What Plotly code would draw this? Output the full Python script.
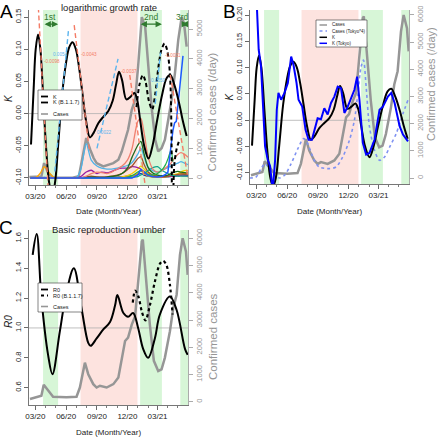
import plotly.graph_objects as go

W, H = 440, 438
FONT = "Liberation Sans, Arial, sans-serif"
XR = ["2020-02-11", "2021-05-31"]

# ---------------- data ----------------
# logarithmic growth rate K (Japan)
k_dates = ["2020-02-17","2020-02-25","2020-03-02","2020-03-09","2020-03-16","2020-03-25","2020-04-03","2020-04-12",
           "2020-04-20","2020-04-28","2020-05-08","2020-05-20","2020-06-01","2020-06-10","2020-06-20","2020-06-30",
           "2020-07-10","2020-07-20","2020-07-30","2020-08-11","2020-08-22","2020-09-05","2020-09-20","2020-10-05",
           "2020-10-18","2020-10-28","2020-11-06","2020-11-15","2020-11-28","2020-12-10","2020-12-22","2020-12-30",
           "2021-01-08","2021-01-20","2021-02-02","2021-02-14","2021-02-28","2021-03-15","2021-03-28","2021-04-08",
           "2021-04-20","2021-05-05","2021-05-15","2021-05-27"]
k_vals = [-0.048,0.04,0.10,0.123,0.10,0.02,-0.06,-0.11,-0.125,-0.11,-0.05,0.03,0.08,0.103,0.111,0.10,0.07,0.03,
          -0.01,-0.037,-0.03,-0.015,-0.005,0.004,0.02,0.045,0.065,0.052,0.022,0.026,0.032,0.022,-0.01,-0.05,-0.07,
          -0.05,-0.01,0.03,0.055,0.060,0.045,0.015,-0.01,-0.035]

# K for B.1.1.7
kb_dates = ["2020-12-28","2021-01-06","2021-01-16","2021-01-24","2021-02-03","2021-02-13","2021-02-22","2021-03-03",
            "2021-03-12","2021-03-22","2021-03-30","2021-04-05","2021-04-09","2021-04-12","2021-04-14","2021-04-20",
            "2021-04-27","2021-05-06"]
kb_vals = [0.01,0.045,0.06,0.05,0.02,0.006,0.03,0.07,0.098,0.109,0.098,0.075,0.04,-0.05,-0.2,-0.08,-0.055,-0.04]

# confirmed cases, panel A
ca_dates = ["2020-02-12","2020-03-05","2020-03-19","2020-03-27","2020-04-08","2020-04-23","2020-05-20","2020-06-20",
            "2020-07-09","2020-07-19","2020-07-31","2020-08-12","2020-08-22","2020-08-31","2020-09-20","2020-10-20",
            "2020-11-04","2020-11-14","2020-11-24","2020-12-03","2020-12-14","2020-12-24","2021-01-02","2021-01-13",
            "2021-01-23","2021-02-02","2021-02-12","2021-02-22","2021-03-03","2021-03-13","2021-03-23","2021-04-02",
            "2021-04-12","2021-04-22","2021-05-02","2021-05-12","2021-05-19","2021-05-27"]
ca_vals = [30,40,50,500,170,20,10,10,60,615,1340,950,670,500,390,500,615,890,1285,1620,2290,2625,3740,5400,5080,
           3740,2290,1285,890,1000,1285,1955,2625,3520,4640,5400,5200,4410]

# confirmed cases, panels B and C
cb_dates = ["2020-02-14","2020-03-19","2020-03-26","2020-04-08","2020-04-23","2020-06-02","2020-07-02","2020-07-12",
            "2020-07-27","2020-08-06","2020-08-21","2020-08-31","2020-09-10","2020-09-30","2020-10-20","2020-11-04",
            "2020-11-14","2020-11-24","2020-12-03","2020-12-14","2020-12-24","2021-01-02","2021-01-13","2021-01-16",
            "2021-01-27","2021-02-06","2021-02-18","2021-03-03","2021-03-13","2021-03-23","2021-04-07","2021-04-17",
            "2021-04-27","2021-05-07","2021-05-15","2021-05-25","2021-05-30"]
cb_vals = [100,220,620,400,180,160,180,520,1435,1010,645,520,585,520,645,890,1500,2230,2350,2830,3140,4300,5880,
           5950,4420,2830,1500,1130,1190,1620,2590,3440,3930,5390,6000,5510,4660]

# Tokyo cases x4
t4_dates = ["2020-02-10","2020-02-29","2020-03-15","2020-03-27","2020-04-09","2020-04-24","2020-05-09","2020-05-24",
            "2020-06-13","2020-07-03","2020-07-20","2020-08-01","2020-08-21","2020-09-05","2020-10-05","2020-10-25",
            "2020-11-14","2020-12-04","2020-12-19","2020-12-29","2021-01-08","2021-01-15","2021-01-23","2021-02-02",
            "2021-02-17","2021-03-04","2021-03-19","2021-04-03","2021-04-23","2021-05-13","2021-05-28"]
t4_vals = [0,37,345,530,345,100,0,100,530,1080,1450,1270,650,405,345,405,775,1390,2130,3110,4100,4340,3360,1880,
           1020,650,775,1140,1640,2370,2870]

# K (Tokyo)
kt_dates = ["2020-02-26","2020-03-02","2020-03-08","2020-03-15","2020-03-20","2020-03-27","2020-04-04","2020-04-11",
            "2020-04-19","2020-04-26","2020-05-01","2020-05-06","2020-05-14","2020-05-24","2020-06-03","2020-06-13",
            "2020-06-20","2020-06-29","2020-07-05","2020-07-16","2020-07-26","2020-08-04","2020-08-14","2020-08-24",
            "2020-08-31","2020-09-10","2020-09-20","2020-09-30","2020-10-10","2020-10-20","2020-10-30","2020-11-09",
            "2020-11-19","2020-11-29","2020-12-09","2020-12-19","2020-12-27","2021-01-03","2021-01-13","2021-01-23",
            "2021-02-02","2021-02-17","2021-03-04","2021-03-14","2021-03-29","2021-04-08","2021-04-18","2021-05-03",
            "2021-05-13","2021-05-28"]
kt_vals = [0.30,0.206,0.134,0.102,0.039,-0.049,-0.075,-0.087,-0.135,-0.075,0.02,0.052,0.039,0.052,0.071,0.121,
           0.105,0.071,0.039,0.026,-0.018,-0.037,-0.037,-0.011,0.004,0.002,0.023,0.011,0.033,0.045,0.064,0.061,
           0.014,0.026,0.042,0.058,0.083,0.039,-0.043,-0.065,-0.062,-0.037,0.020,0.026,0.045,0.052,0.033,-0.011,
           -0.027,-0.040]

# basic reproduction number R0
r0_dates = ["2020-02-22","2020-03-05","2020-03-19","2020-04-08","2020-04-21","2020-05-13","2020-06-02","2020-06-24",
            "2020-07-17","2020-08-06","2020-08-13","2020-08-31","2020-09-20","2020-10-10","2020-10-25","2020-11-01",
            "2020-11-19","2020-12-03","2020-12-18","2021-01-02","2021-01-17","2021-02-01","2021-02-21","2021-03-08",
            "2021-04-07","2021-04-27","2021-05-22","2021-05-30"]
r0_vals = [1.49,1.63,1.20,0.82,0.69,0.975,1.24,1.40,1.13,0.90,0.88,0.93,0.99,1.04,1.15,1.22,1.10,1.075,1.10,1.0,
           0.86,0.80,0.93,1.09,1.21,1.12,0.86,0.82]
r0b_dates = ["2020-12-17","2020-12-24","2021-01-03","2021-01-13","2021-01-24","2021-02-06","2021-02-21","2021-03-08",
             "2021-03-18","2021-03-28","2021-04-07","2021-04-15"]
r0b_vals = [1.17,1.25,1.21,1.11,1.05,1.15,1.31,1.43,1.45,1.42,1.29,1.09]

# prefecture case curves in panel A (common date grid)
grid = ["2020-02-15","2020-03-01","2020-03-15","2020-03-28","2020-04-10","2020-04-25","2020-05-10","2020-06-01",
        "2020-07-01","2020-07-15","2020-07-31","2020-08-15","2020-09-01","2020-09-15","2020-10-01","2020-10-15",
        "2020-11-01","2020-11-15","2020-12-01","2020-12-15","2021-01-01","2021-01-10","2021-01-20","2021-02-01",
        "2021-02-15","2021-03-01","2021-03-15","2021-04-01","2021-04-10","2021-04-20","2021-05-01","2021-05-10",
        "2021-05-20","2021-05-31"]
pref_orange = [0,0,150,380,200,20,0,0,0,0,0,0,0,0,0,0,0,0,20,60,150,250,150,60,30,20,30,60,80,100,120,140,150,150]
pref_lightblue = [0,0,0,0,0,0,0,0,0,300,1150,600,400,330,300,300,330,370,420,520,800,1000,700,350,250,200,250,350,
                  400,450,500,550,500,450]
pref_purple = [0,0,0,0,0,0,0,0,0,50,200,260,150,200,170,220,300,330,330,380,350,300,200,100,60,40,40,60,60,70,80,
               80,70,60]
pref_brown = [0,0,0,0,0,0,0,0,0,0,40,60,40,30,40,60,100,150,280,400,650,720,450,200,100,60,50,60,80,100,120,140,
              130,120]
pref_darkgreen = [0,0,0,0,0,0,0,0,0,0,20,30,20,20,30,50,80,150,330,700,1100,1230,800,350,170,100,80,100,150,200,
                  220,200,180,160]
pref_salmon = [0,0,0,0,0,0,0,0,0,0,60,150,200,180,150,200,300,400,600,1000,1900,2000,1500,700,300,200,250,400,500,
               650,800,850,800,700]
pref_yellow = [0,0,0,0,0,0,0,0,0,0,0,0,0,0,0,0,20,40,80,150,300,400,300,150,60,30,30,50,80,120,150,200,250,250]
pref_teal = [0,0,0,0,0,0,0,0,0,0,0,0,0,0,0,0,0,0,0,20,50,100,150,250,350,380,250,150,100,80,60,60,60,60]
pref_navy = [0,0,10,20,10,0,0,0,0,10,30,30,20,20,20,20,30,40,60,80,120,150,100,60,40,30,30,40,50,60,80,100,100,90]
green_dates = ["2020-12-01","2020-12-15","2021-01-01","2021-01-10","2021-01-20","2021-02-01","2021-02-15",
               "2021-03-01","2021-03-15","2021-03-25","2021-04-03","2021-04-10","2021-04-16"]
pref_green = [30,80,200,250,200,120,100,150,280,450,700,920,550]
blue_dates = ["2020-02-15","2020-12-15","2021-01-01","2021-01-10","2021-01-20","2021-02-01","2021-02-15","2021-03-01",
              "2021-03-15","2021-03-25","2021-04-01","2021-04-06","2021-04-11","2021-04-16","2021-04-21","2021-04-26",
              "2021-05-01","2021-05-06","2021-05-11","2021-05-16"]
pref_blue = [0,0,100,280,200,80,40,30,60,120,200,600,1150,1600,1850,1900,2500,3000,3500,4100]

# fitted slopes of K (panel A)
fit_x = [["2020-03-10","2020-04-09"],["2020-04-28","2020-06-08"],["2020-06-25","2020-08-10"],
         ["2020-09-01","2020-11-03"],["2020-12-08","2021-01-28"],["2021-02-22","2021-03-10"],
         ["2021-04-08","2021-05-31"]]
fit_y = [[0.165,-0.125],[-0.09,0.13],[0.1375,-0.06],[-0.054,0.085],[0.06,-0.13],[0.015,0.095],[0.06,-0.1]]
fit_labels = ["-0.0098","0.0054","-0.0043","0.0022","-0.0037","0.0050","-0.0031"]
fit_label_x = ["2020-04-21","2020-05-15","2020-08-08","2020-09-22","2020-12-06","2021-03-01","2021-04-15"]
fit_label_y = [0.081,0.092,0.092,-0.030,0.066,0.052,0.091]

# shaded periods
green_periods = [("2020-03-24","2020-05-08"),("2021-01-08","2021-03-14"),("2021-05-08","2021-05-31")]
pink_periods = [("2020-07-14","2020-12-31")]
wave_names = ["1st","2nd","3rd"]
wave_arrows = [("2020-03-24","2020-05-08"),("2021-01-05","2021-03-14"),("2021-05-08","2021-05-31")]
wave_text_x = ["2020-04-15","2021-02-08","2021-05-16"]

# tick labels
k_ticks_a = [-0.10,-0.05,0.00,0.05,0.10,0.15]
k_ticks_b = [-0.10,-0.05,0.00,0.05,0.10,0.15,0.20]
r0_ticks = [0.6,0.8,1.0,1.2,1.4,1.6]
case_ticks_a = [0,1000,2000,3000,4000,5000]
case_ticks_bc = [0,1000,2000,3000,4000,5000,6000]

# ---------------- colours ----------------
GRAY = "#969696"
SALMON = "#F47C66"
LBLUE = "#5DB5EE"
GREENBAND = "#d7f6d7"
PINKBAND = "#fde3df"
DKGREEN = "#2F7A2F"

fig = go.Figure()

def add_line(x, y, xa, ya, color, width, dash=None, shape="spline", smoothing=1.0):
    ln = dict(color=color, width=width, shape=shape)
    if dash:
        ln["dash"] = dash
    if shape == "spline":
        ln["smoothing"] = smoothing
    fig.add_trace(go.Scatter(x=x, y=y, xaxis=xa, yaxis=ya, mode="lines", line=ln,
                             showlegend=False, hoverinfo="skip", cliponaxis=True))

# ---- Panel A ----
add_line(ca_dates, ca_vals, "x", "y", GRAY, 2.5, shape="linear")
for vals, col in [(pref_navy, "#1030A0"), (pref_orange, "#FFA500"), (pref_yellow, "#F2CF00"),
                  (pref_purple, "#9B1FA0"), (pref_brown, "#A0522D"), (pref_teal, "#12A38C"),
                  (pref_lightblue, "#4FB3E8"), (pref_darkgreen, "#1E6A1E"), (pref_salmon, "#F08070")]:
    add_line(grid, vals, "x", "y", col, 1.3, smoothing=0.8)
add_line(green_dates, pref_green, "x", "y", "#22B14C", 1.3, smoothing=0.8)
add_line(blue_dates, pref_blue, "x", "y", "#1E5BFF", 1.5, shape="linear")
add_line(k_dates, k_vals, "x", "y2", "black", 2.0)
add_line(kb_dates, kb_vals, "x", "y2", "black", 2.0, dash="4px,3px", smoothing=0.8)
for i in range(len(fit_x)):
    col = SALMON if fit_labels[i].startswith("-") else LBLUE
    add_line(fit_x[i], fit_y[i], "x", "y2", col, 1.4, dash="5px,3px", shape="linear")

# ---- Panel B ----
add_line(cb_dates, cb_vals, "x2", "y3", GRAY, 2.5, shape="linear")
add_line(t4_dates, t4_vals, "x2", "y3", "#7F92F2", 1.6, dash="dot", smoothing=0.8)
add_line(k_dates, k_vals, "x2", "y4", "black", 2.0)
add_line(kt_dates, kt_vals, "x2", "y4", "#0000FF", 2.0, shape="linear")

# ---- Panel C ----
add_line(cb_dates, cb_vals, "x3", "y5", GRAY, 2.5, shape="linear")
add_line(r0_dates, r0_vals, "x3", "y6", "black", 2.0)
add_line(r0b_dates, r0b_vals, "x3", "y6", "black", 2.2, dash="3px,3px", smoothing=0.8)

# ---------------- axes ----------------
def xax(l, r, anchor):
    return dict(domain=[l / W, r / W], anchor=anchor, type="date", range=XR, tick0="2020-03-01", dtick="M3",
                tickformat="%m/%y", ticks="outside", ticklen=4, tickwidth=0.8, tickcolor="#444",
                showline=True, linecolor="#555", linewidth=0.8, showgrid=False, zeroline=False, automargin=False,
                tickfont=dict(family=FONT, size=8, color="#222"),
                minor=dict(dtick="M1", tick0="2020-03-01", ticks="outside", ticklen=2.5, tickcolor="#444",
                           tickwidth=0.7, showgrid=False))

def case_ax(top, bot, rng, anchor, ticks):
    return dict(domain=[1 - bot / H, 1 - top / H], anchor=anchor, side="right", range=rng, automargin=False,
                tickvals=ticks, ticktext=[str(t) for t in ticks], tickangle=-90, ticks="outside", ticklen=4,
                tickwidth=0.8, tickcolor=GRAY, showline=True, linecolor=GRAY, linewidth=0.8, showgrid=False,
                zeroline=False, tickfont=dict(family=FONT, size=7.5, color=GRAY))

def left_ax(overlay, anchor, rng, ticks, fmt):
    return dict(overlaying=overlay, anchor=anchor, side="left", range=rng, tickvals=ticks, automargin=False,
                ticktext=[fmt.format(t) for t in ticks], tickangle=-90, ticks="outside", ticklen=4,
                tickwidth=0.8, tickcolor="#444", showline=True, linecolor="#555", linewidth=0.8,
                showgrid=False, zeroline=False, tickfont=dict(family=FONT, size=7.5, color="#222"))

layout = dict(
    width=W, height=H, margin=dict(l=0, r=0, t=0, b=0, pad=0, autoexpand=False), paper_bgcolor="white",
    plot_bgcolor="rgba(0,0,0,0)", showlegend=False, font=dict(family=FONT),
    xaxis=xax(29, 188, "y"),
    yaxis=case_ax(10, 185, [-235, 5638], "x", case_ticks_a),
    yaxis2=left_ax("y", "x", [-0.111, 0.161], k_ticks_a, "{:.2f}"),
    xaxis2=xax(250, 409, "y3"),
    yaxis3=case_ax(10, 184, [-221, 6183], "x2", case_ticks_bc),
    yaxis4=left_ax("y3", "x2", [-0.121, 0.2095], k_ticks_b, "{:.2f}"),
    xaxis3=xax(29, 188, "y5"),
    yaxis5=case_ax(230, 405, [-121, 6305], "x3", case_ticks_bc),
    yaxis6=left_ax("y5", "x3", [0.484, 1.656], r0_ticks, "{:.1f}"),
)
fig.update_layout(**layout)

# ---------------- shading & reference lines ----------------
shapes = []
for xr, yr in [("x", "y domain"), ("x2", "y3 domain"), ("x3", "y5 domain")]:
    for a, b in green_periods:
        shapes.append(dict(type="rect", xref=xr, yref=yr, x0=a, x1=b, y0=0, y1=1, fillcolor=GREENBAND,
                           line=dict(width=0), layer="below"))
    for a, b in pink_periods:
        shapes.append(dict(type="rect", xref=xr, yref=yr, x0=a, x1=b, y0=0, y1=1, fillcolor=PINKBAND,
                           line=dict(width=0), layer="below"))
for xr, yr, v in [("x domain", "y2", 0.0), ("x2 domain", "y4", 0.0), ("x3 domain", "y6", 1.0)]:
    shapes.append(dict(type="line", xref=xr, yref=yr, x0=0, x1=1, y0=v, y1=v,
                       line=dict(color="#b0b0b0", width=0.8), layer="below"))

annotations = []

def px(x):
    return x / W

def py(y):
    return 1 - y / H

def text(x, y, s, size, color="#222", angle=0, xanchor="center", italic=False):
    annotations.append(dict(xref="paper", yref="paper", x=px(x), y=py(y), text=s, showarrow=False,
                            textangle=angle, xanchor=xanchor, yanchor="middle",
                            font=dict(family=FONT, size=size, color=color)))

# manual legends
def legend(box, entries, lx, tx, fsize):
    x0, y0, x1, y1 = box
    shapes.append(dict(type="rect", xref="paper", yref="paper", x0=px(x0), x1=px(x1), y0=py(y1), y1=py(y0),
                       fillcolor="white", line=dict(color="#333", width=0.6), layer="above"))
    for label, col, dash, wd, yy in entries:
        shapes.append(dict(type="line", xref="paper", yref="paper", x0=px(lx[0]), x1=px(lx[1]), y0=py(yy),
                           y1=py(yy), line=dict(color=col, width=wd, dash=dash), layer="above"))
        text(tx, yy, label, fsize, xanchor="left")

legend((38, 90, 82, 120), [("K", "black", "solid", 1.8, 96.5), ("K (B.1.1.7)", "black", "dash", 1.8, 102.5),
                           ("Cases", GRAY, "solid", 1.6, 114)], (41, 48), 50.5, 5.5)
legend((316, 20, 367, 47), [("Cases", GRAY, "solid", 1.5, 25), ("Cases (Tokyo*4)", "#7F92F2", "dot", 1.5, 31),
                            ("K", "black", "solid", 1.5, 37.3), ("K (Tokyo)", "#0000FF", "solid", 1.5, 43.3)],
       (319.5, 327), 330, 4.5)
legend((38, 283, 82, 312), [("R0", "black", "solid", 1.8, 289.5), ("R0 (B.1.1.7)", "black", "dot", 1.8, 295.5),
                            ("Cases", GRAY, "solid", 1.6, 306.5)], (41, 48), 50.5, 5.5)

# wave arrows
for (a, b), nm, tx_ in zip(wave_arrows, wave_names, wave_text_x):
    annotations.append(dict(xref="x", yref="y2", x=b, y=0.139, ax=a, ay=0.139, axref="x", ayref="y2",
                            text="", showarrow=True, arrowside="end+start", arrowhead=2, arrowsize=0.9,
                            arrowwidth=1.4, arrowcolor=DKGREEN, startarrowhead=2, startarrowsize=0.9))
    annotations.append(dict(xref="x", yref="y2", x=tx_, y=0.150, text=nm, showarrow=False,
                            font=dict(family=FONT, size=8.5, color=DKGREEN)))

# slope labels
for lab, lx_, ly_ in zip(fit_labels, fit_label_x, fit_label_y):
    col = SALMON if lab.startswith("-") else LBLUE
    annotations.append(dict(xref="x", yref="y2", x=lx_, y=ly_, text=lab, showarrow=False,
                            font=dict(family=FONT, size=4.6, color=col)))

# titles, letters, axis titles
text(108.5, 7, "logarithmic growth rate", 9.5)
text(108.5, 229, "Basic reproduction number", 9.5)
text(7, 11, "A", 19, "black")
text(229, 11, "B", 19, "black")
text(6, 227, "C", 19, "black")
text(9, 98, "<i>K</i>", 10, angle=-90)
text(229.5, 97, "<i>K</i>", 10, angle=-90)
text(8, 322, "<i>R0</i>", 10, angle=-90)
text(211.5, 112, "Confirmed cases (/day)", 11.5, GRAY, angle=-90)
text(431, 84, "Confirmed cases (/day)", 11, GRAY, angle=-90)
text(213, 337, "Confirmed cases", 11.5, GRAY, angle=-90)
text(108.5, 211, "Date (Month/Year)", 8)
text(329.5, 211.5, "Date (Month/Year)", 8)
text(108.5, 432, "Date (Month/Year)", 8)

fig.update_layout(shapes=shapes, annotations=annotations)
fig.write_html("out.html", config={"displayModeBar": False, "staticPlot": True},
               post_script="document.body.style.margin='0';document.body.style.padding='0';")
